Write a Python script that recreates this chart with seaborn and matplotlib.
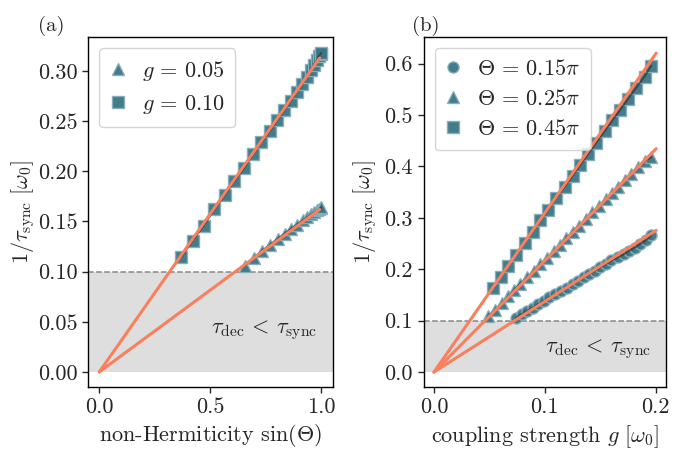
import matplotlib
matplotlib.use("Agg")
import matplotlib.pyplot as plt
import numpy as np
import pandas as pd
import seaborn as sns

# ----- data -----
# (a) rate vs non-Hermiticity sin(Theta)
sin_g005 = [0.655, 0.696, 0.734, 0.770, 0.804, 0.835, 0.864, 0.891, 0.915,
            0.935, 0.953, 0.968, 0.981, 0.990, 0.996, 0.999]
rate_g005 = [0.106, 0.114, 0.121, 0.127, 0.133, 0.138, 0.143, 0.147, 0.151,
             0.154, 0.157, 0.159, 0.161, 0.162, 0.163, 0.164]

sin_g010 = [0.370, 0.421, 0.470, 0.518, 0.564, 0.608, 0.651, 0.692, 0.730,
            0.767, 0.801, 0.832, 0.862, 0.888, 0.913, 0.933, 0.952, 0.967,
            0.980, 0.989, 0.996, 0.999]
rate_g010 = [0.115, 0.131, 0.146, 0.162, 0.176, 0.190, 0.203, 0.217, 0.229,
             0.240, 0.251, 0.261, 0.270, 0.279, 0.287, 0.294, 0.301, 0.306,
             0.311, 0.315, 0.317, 0.318]

fit_sin = [0.0, 0.992]
fit_g005 = [0.0, 0.162]
fit_g010 = [0.0, 0.313]

# (b) rate vs coupling strength g
g_015 = [0.074, 0.079, 0.084, 0.089, 0.094, 0.099, 0.104, 0.109, 0.115,
         0.120, 0.125, 0.130, 0.135, 0.140, 0.145, 0.150, 0.155, 0.160,
         0.166, 0.171, 0.176, 0.181, 0.186, 0.191, 0.196]
rate_015 = [0.106, 0.112, 0.119, 0.125, 0.132, 0.138, 0.145, 0.151, 0.158,
            0.164, 0.171, 0.178, 0.184, 0.191, 0.197, 0.204, 0.210, 0.217,
            0.223, 0.229, 0.236, 0.242, 0.249, 0.256, 0.266]

g_025 = [0.049, 0.055, 0.061, 0.067, 0.072, 0.078, 0.084, 0.090, 0.096,
         0.102, 0.108, 0.114, 0.119, 0.125, 0.131, 0.137, 0.143, 0.149,
         0.155, 0.161, 0.166, 0.172, 0.178, 0.184, 0.190, 0.196]
rate_025 = [0.109, 0.121, 0.134, 0.147, 0.159, 0.172, 0.184, 0.197, 0.210,
            0.222, 0.235, 0.248, 0.260, 0.273, 0.285, 0.298, 0.311, 0.323,
            0.336, 0.349, 0.361, 0.374, 0.386, 0.399, 0.410, 0.418]

g_045 = [0.053, 0.060, 0.067, 0.074, 0.082, 0.089, 0.096, 0.103, 0.110,
         0.118, 0.125, 0.132, 0.139, 0.146, 0.154, 0.161, 0.168, 0.175,
         0.182, 0.190, 0.196]
rate_045 = [0.163, 0.185, 0.206, 0.228, 0.252, 0.273, 0.295, 0.316, 0.338,
            0.361, 0.382, 0.403, 0.424, 0.445, 0.469, 0.490, 0.510, 0.531,
            0.552, 0.575, 0.596]

fit_g = [0.0, 0.2005]
fit_015 = [0.0, 0.2757]
fit_025 = [0.0, 0.4346]
fit_045 = [0.0, 0.6206]

threshold = 0.1

# ----- style -----
sns.set_style("ticks")
plt.rcParams["font.family"] = "serif"
plt.rcParams["font.serif"] = ["cmr10", "DejaVu Serif"]
plt.rcParams["mathtext.fontset"] = "cm"
plt.rcParams["axes.formatter.use_mathtext"] = True
plt.rcParams["axes.unicode_minus"] = False

MARK = "#3a7585"
EDGE = "#86afba"
FIT = "#fa7f5c"
FS = 16

fig = plt.figure(figsize=(7.0, 4.51), dpi=100)
ax_a = fig.add_axes([0.126, 0.142, 0.349, 0.776])
ax_b = fig.add_axes([0.605, 0.141, 0.347, 0.777])


def draw_series(ax, x, y, marker, label, ms=8):
    sns.lineplot(x=x, y=y, ax=ax, color="#333333", lw=1.4, alpha=0.7,
                 sort=False, zorder=3)
    ax.plot(x, y, ls="none", marker=marker, ms=ms, color=MARK,
            mec=EDGE, mew=1.0, alpha=0.95, zorder=2, label=label)


def draw_fit(ax, x, y):
    sns.lineplot(x=x, y=y, ax=ax, color=FIT, lw=2.2, sort=False, zorder=4)


def draw_region(ax, xpos, ypos):
    ax.axhspan(0, threshold, color="#dedede", lw=0, zorder=0)
    ax.axhline(threshold, color="#888888", ls="--", lw=1.1, zorder=1)
    ax.text(xpos, ypos, r"$\tau_{\rm dec}\,<\,\tau_{\rm sync}$", fontsize=FS,
            ha="center", va="center", zorder=5)


def add_legend(ax):
    ax.legend(loc="upper left", fontsize=FS, handletextpad=0.7,
              borderpad=0.5, handlelength=0.7, labelspacing=0.45)


# (a)
draw_region(ax_a, 0.74, 0.042)
draw_fit(ax_a, fit_sin, fit_g005)
draw_fit(ax_a, fit_sin, fit_g010)
draw_series(ax_a, sin_g005, rate_g005, "^", r"$g\,=\,0.05$", ms=8.5)
draw_series(ax_a, sin_g010, rate_g010, "s", r"$g\,=\,0.10$")
ax_a.set_xlabel(r"non-Hermiticity $\sin(\Theta)$", fontsize=FS)
ax_a.set_ylabel(r"$1/\tau_{\rm sync}\ [\omega_0]$", fontsize=FS)
ax_a.yaxis.set_label_coords(-0.21, 0.5)
ax_a.set_xticks([0.0, 0.5, 1.0])
ax_a.set_yticks([0.0, 0.05, 0.10, 0.15, 0.20, 0.25, 0.30])
ax_a.set_yticklabels(["0.00", "0.05", "0.10", "0.15", "0.20", "0.25", "0.30"])
ax_a.set_xticklabels(["0.0", "0.5", "1.0"])
ax_a.set_xlim(-0.05, 1.05)
ax_a.set_ylim(-0.015, 0.334)
add_legend(ax_a)

# (b)
draw_region(ax_b, 0.148, 0.044)
draw_fit(ax_b, fit_g, fit_015)
draw_fit(ax_b, fit_g, fit_025)
draw_fit(ax_b, fit_g, fit_045)
draw_series(ax_b, g_015, rate_015, "o", r"$\Theta\,=\,0.15\pi$")
draw_series(ax_b, g_025, rate_025, "^", r"$\Theta\,=\,0.25\pi$", ms=8.5)
draw_series(ax_b, g_045, rate_045, "s", r"$\Theta\,=\,0.45\pi$")
ax_b.set_xlabel(r"coupling strength $g\ [\omega_0]$", fontsize=FS)
ax_b.set_ylabel(r"$1/\tau_{\rm sync}\ [\omega_0]$", fontsize=FS)
ax_b.set_xticks([0.0, 0.1, 0.2])
ax_b.set_xticklabels(["0.0", "0.1", "0.2"])
ax_b.set_yticks([0.0, 0.1, 0.2, 0.3, 0.4, 0.5, 0.6])
ax_b.set_yticklabels(["0.0", "0.1", "0.2", "0.3", "0.4", "0.5", "0.6"])
ax_b.set_xlim(-0.0095, 0.2097)
ax_b.set_ylim(-0.030, 0.652)
add_legend(ax_b)

fig.text(0.054, 0.965, "(a)", fontsize=FS - 1, va="top")
fig.text(0.588, 0.965, "(b)", fontsize=FS - 1, va="top")

for ax in (ax_a, ax_b):
    ax.tick_params(labelsize=FS, direction="out", length=4, width=1)
    for sp in ax.spines.values():
        sp.set_visible(True)
        sp.set_color("black")
        sp.set_linewidth(1.0)

fig.savefig("out.png", dpi=100)
